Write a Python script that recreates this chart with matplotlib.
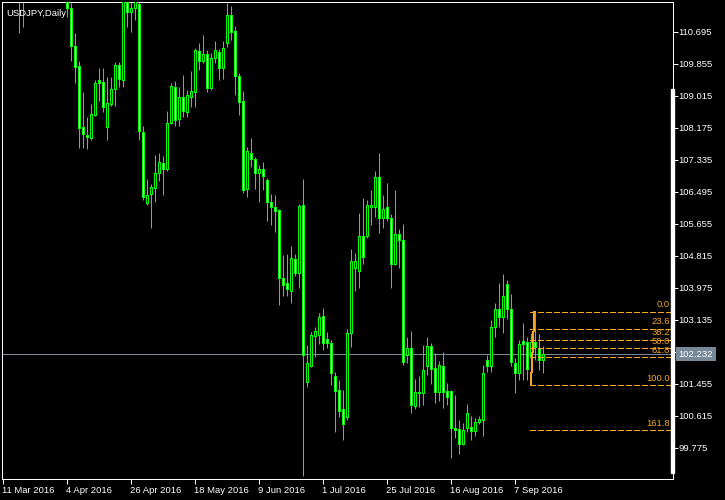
import matplotlib
matplotlib.use("Agg")
import matplotlib.pyplot as plt
from matplotlib.patches import Rectangle
import numpy as np

# ---------------- data (USDJPY, Daily) ----------------
opens = [113.20, 113.80, 113.85, 113.10, 112.30, 111.55, 111.60, 111.90, 112.40, 112.45,
         112.90, 113.05, 113.40, 112.50, 112.60, 112.55, 111.65, 111.31, 110.32, 109.80,
         108.19, 107.98, 107.91, 108.51, 109.43, 109.37, 108.20, 108.79, 109.18, 109.82,
         109.43, 111.75, 111.20, 111.31, 111.42, 108.07, 106.21, 106.43, 106.58, 106.98,
         107.24, 107.08, 108.29, 109.25, 108.40, 108.97, 108.60, 108.99, 109.10, 110.19,
         109.93, 110.10, 109.21, 110.00, 110.15, 109.75, 110.41, 111.13, 110.71, 109.53,
         108.88, 106.56, 107.52, 107.35, 106.98, 107.08, 106.80, 106.22, 106.10, 106.01,
         104.24, 104.09, 103.88, 104.72, 104.37, 106.14, 101.49, 101.93, 102.72, 102.73,
         103.22, 102.62, 102.52, 101.67, 101.29, 100.78, 100.59, 102.78, 104.48, 104.42,
         105.33, 105.33, 106.10, 106.10, 106.87, 105.80, 106.10, 105.80, 104.61, 105.38,
         105.24, 102.21, 102.38, 100.87, 101.22, 101.20, 101.93, 102.44, 101.86, 101.25,
         101.92, 101.26, 101.27, 100.28, 100.26, 99.86, 100.30, 100.31, 100.22, 100.44,
         100.50, 102.08, 101.92, 102.95, 103.41, 103.21, 104.07, 103.41, 101.99, 101.73,
         102.57, 102.56, 102.16, 102.56, 102.38, 102.08]
highs = [114.00, 114.10, 114.05, 113.60, 112.60, 111.90, 112.10, 112.60, 112.70, 113.00,
         113.20, 113.80, 113.80, 112.80, 112.70, 112.60, 111.90, 111.45, 110.65, 109.93,
         109.11, 108.46, 108.80, 109.43, 109.73, 109.73, 109.51, 109.51, 109.91, 109.91,
         111.85, 111.88, 111.55, 111.85, 111.90, 108.22, 106.82, 106.69, 107.46, 107.50,
         107.43, 108.61, 109.36, 109.40, 109.25, 109.56, 109.17, 109.66, 110.28, 110.41,
         110.61, 110.21, 110.13, 110.45, 110.24, 110.45, 111.44, 111.37, 110.84, 109.60,
         109.15, 107.68, 107.91, 107.41, 107.19, 107.27, 106.85, 106.44, 106.41, 106.03,
         104.83, 104.86, 105.07, 104.86, 106.17, 106.83, 102.48, 102.82, 102.95, 103.30,
         103.45, 102.82, 102.60, 101.77, 101.55, 101.29, 102.88, 104.99, 104.89, 105.94,
         106.34, 106.28, 106.54, 107.04, 107.50, 106.41, 106.72, 105.90, 106.54, 105.52,
         105.65, 102.69, 102.84, 101.58, 101.66, 102.46, 102.67, 102.53, 102.27, 102.06,
         102.30, 101.47, 101.29, 101.16, 100.50, 100.43, 100.92, 100.61, 100.55, 100.61,
         101.94, 102.21, 103.13, 103.57, 104.09, 104.33, 104.18, 103.81, 102.12, 102.60,
         103.06, 102.69, 102.78, 103.35, 102.75, 102.44]
lows = [112.95, 113.60, 112.90, 111.90, 110.67, 110.83, 111.55, 111.70, 112.00, 112.20,
        112.75, 112.90, 112.40, 112.30, 112.00, 111.60, 111.09, 109.93, 109.34, 107.65,
        107.65, 107.62, 107.85, 108.49, 108.88, 108.58, 107.85, 108.75, 108.75, 109.25,
        109.25, 110.83, 110.68, 111.00, 107.85, 106.28, 106.14, 105.55, 106.23, 106.78,
        106.41, 107.05, 108.27, 108.23, 108.23, 108.46, 108.46, 108.73, 108.73, 109.69,
        109.87, 109.10, 109.17, 109.87, 109.43, 109.45, 110.30, 110.48, 109.03, 108.51,
        106.45, 106.36, 107.15, 106.56, 106.23, 106.54, 105.73, 105.62, 105.43, 103.52,
        103.77, 103.77, 103.57, 104.29, 103.98, 99.02, 101.38, 101.90, 102.16, 102.50,
        102.34, 102.38, 101.42, 100.20, 100.59, 99.98, 100.50, 102.42, 103.90, 103.98,
        104.61, 105.27, 105.62, 105.84, 105.42, 105.55, 105.73, 103.98, 104.57, 104.48,
        101.94, 101.99, 100.68, 100.78, 100.85, 100.89, 101.68, 101.45, 100.95, 100.99,
        100.83, 100.89, 99.51, 100.02, 99.61, 99.84, 100.20, 99.98, 100.08, 100.40,
        100.07, 101.77, 101.77, 102.69, 102.95, 102.79, 103.15, 101.92, 101.20, 101.55,
        101.55, 101.55, 101.90, 102.08, 101.81, 101.73]
closes = [113.80, 113.85, 113.10, 112.30, 111.55, 111.60, 111.90, 112.40, 112.45, 112.90,
          113.05, 113.40, 112.50, 112.60, 112.55, 111.65, 111.33, 110.33, 109.78, 108.18,
          108.02, 107.94, 108.53, 109.34, 109.34, 108.73, 108.82, 109.19, 109.82, 109.45,
          111.75, 111.20, 111.31, 111.65, 108.09, 106.36, 106.40, 106.61, 106.98, 107.27,
          107.08, 108.31, 109.27, 108.38, 108.99, 108.61, 109.03, 109.14, 110.21, 109.93,
          110.10, 109.23, 110.00, 110.21, 109.75, 110.26, 111.13, 110.70, 109.53, 108.86,
          106.54, 107.56, 107.35, 106.98, 107.08, 106.92, 106.23, 106.10, 106.00, 104.24,
          104.05, 103.93, 104.75, 104.37, 106.12, 102.21, 101.99, 102.73, 102.84, 103.20,
          102.53, 102.52, 101.73, 101.27, 100.74, 100.39, 102.78, 104.67, 104.67, 105.33,
          104.79, 106.14, 106.14, 106.87, 105.80, 106.03, 105.80, 104.61, 105.38, 105.24,
          102.03, 102.38, 100.89, 101.25, 101.25, 101.81, 102.44, 101.83, 101.25, 101.94,
          101.25, 101.11, 100.28, 100.24, 99.86, 100.24, 100.68, 100.22, 100.44, 100.52,
          101.73, 101.92, 102.95, 103.41, 103.21, 103.76, 103.41, 102.02, 101.73, 102.49,
          102.49, 101.83, 102.56, 102.41, 102.08, 102.23]

date_tick_bars = [0, 16, 32, 48, 64, 80, 96, 112, 128]
date_tick_labels = ["11 Mar 2016", "4 Apr 2016", "26 Apr 2016", "18 May 2016", "9 Jun 2016",
                    "1 Jul 2016", "25 Jul 2016", "16 Aug 2016", "7 Sep 2016"]
price_ticks = [110.695, 109.855, 109.015, 108.175, 107.335, 106.495, 105.655, 104.815,
               103.975, 103.135, 102.295, 101.455, 100.615, 99.775]
bid_price = 102.232
fib_high = 103.35
fib_low = 101.42
fib_ratios = [0.0, 23.6, 38.2, 50.0, 61.8, 100.0, 161.8]
fib_low_bar = 132.1
fib_high_bar = 133.0
title = "USDJPY,Daily"

# ---------------- style ----------------
W, H = 725, 500
FONT = "Liberation Sans"
FS = 6.8
GREEN = "#00FF00"
ORANGE = "#F5A623"
BIDCOL = "#778899"
px = 0.72  # one pixel in points at 100 dpi

fig = plt.figure(figsize=(W / 100, H / 100), dpi=100, facecolor="black")
left, right, top, bottom = 2.0, 672.7, 2.0, 479.3
ax = fig.add_axes([left / W, (H - bottom) / H, (right - left) / W, (bottom - top) / H])
ax.set_facecolor("black")

o = np.array(opens); h = np.array(highs); l = np.array(lows); c = np.array(closes)
xs = np.arange(len(o))

# wicks (bar centres fall on pixel centres, so 1 px antialiased lines stay crisp)
ax.vlines(xs, l, h, color=GREEN, linewidth=px, zorder=2)
# bodies
bull = c >= o
body_bottom = np.minimum(o, c)
body_height = np.abs(c - o)
bars = ax.bar(xs, body_height, bottom=body_bottom, width=0.5,
              color=np.where(bull, "black", "white"), edgecolor=GREEN, linewidth=px, zorder=3)
for b in bars:
    b.set_antialiased(False)

# bid line
ax.axhline(bid_price, color=BIDCOL, linewidth=px, zorder=1, antialiased=False)

# fibonacci
rng = fib_high - fib_low
x_right = 167.55
for r in fib_ratios:
    lvl = fib_high - rng * r / 100.0
    ax.plot([fib_low_bar - 0.25, x_right], [lvl, lvl], color=ORANGE, linewidth=px,
            linestyle=(0, (5.5, 2.8)), zorder=4, antialiased=False)
    ax.annotate(f"{r:.1f}", xy=(1, lvl), xycoords=("axes fraction", "data"),
                xytext=(-2, 5), textcoords="offset points", ha="right", va="center",
                color=ORANGE, fontsize=FS, family=FONT, zorder=5)
ax.plot([fib_low_bar, fib_high_bar], [fib_low, fib_high], color=ORANGE, linewidth=px,
        zorder=4, antialiased=False)

# limits
ax.set_xlim(-0.125, 167.55)
ax.set_ylim(98.946, 111.475)

# axes frame
for s in ax.spines.values():
    s.set_color("white")
    s.set_linewidth(px)
    s.set_antialiased(False)

# y ticks on right
ax.yaxis.tick_right()
ax.set_yticks(price_ticks)
ax.set_yticklabels([f"{v:.3f}" for v in price_ticks])
ax.tick_params(axis="y", colors="white", length=3.3, width=px, pad=1, labelsize=FS)
# x ticks
ax.set_xticks(date_tick_bars)
ax.set_xticklabels(date_tick_labels, ha="left")
ax.tick_params(axis="x", colors="white", length=3.6, width=px, pad=1, labelsize=FS)
for lab in ax.get_xticklabels() + ax.get_yticklabels():
    lab.set_family(FONT)
    lab.set_color("white")

# title
ax.text(0.007, 0.985, title, transform=ax.transAxes, ha="left", va="top",
        color="white", fontsize=FS, family=FONT, zorder=6)

# bid price box
ax.annotate(f"{bid_price:.3f}", xy=(1, bid_price), xycoords=("axes fraction", "data"),
            xytext=(4.3, 0), textcoords="offset points", ha="left", va="center",
            color="white", fontsize=FS, family=FONT, annotation_clip=False, zorder=10,
            bbox=dict(boxstyle="square,pad=0.25", fc=BIDCOL, ec="none"))

# right-side white scroll marker
fig.patches.append(Rectangle((671 / W, (H - 473) / H), 3 / W, (473 - 89) / H,
                             transform=fig.transFigure, color="white", zorder=5))

fig.savefig("out.png", dpi=100, facecolor="black")
